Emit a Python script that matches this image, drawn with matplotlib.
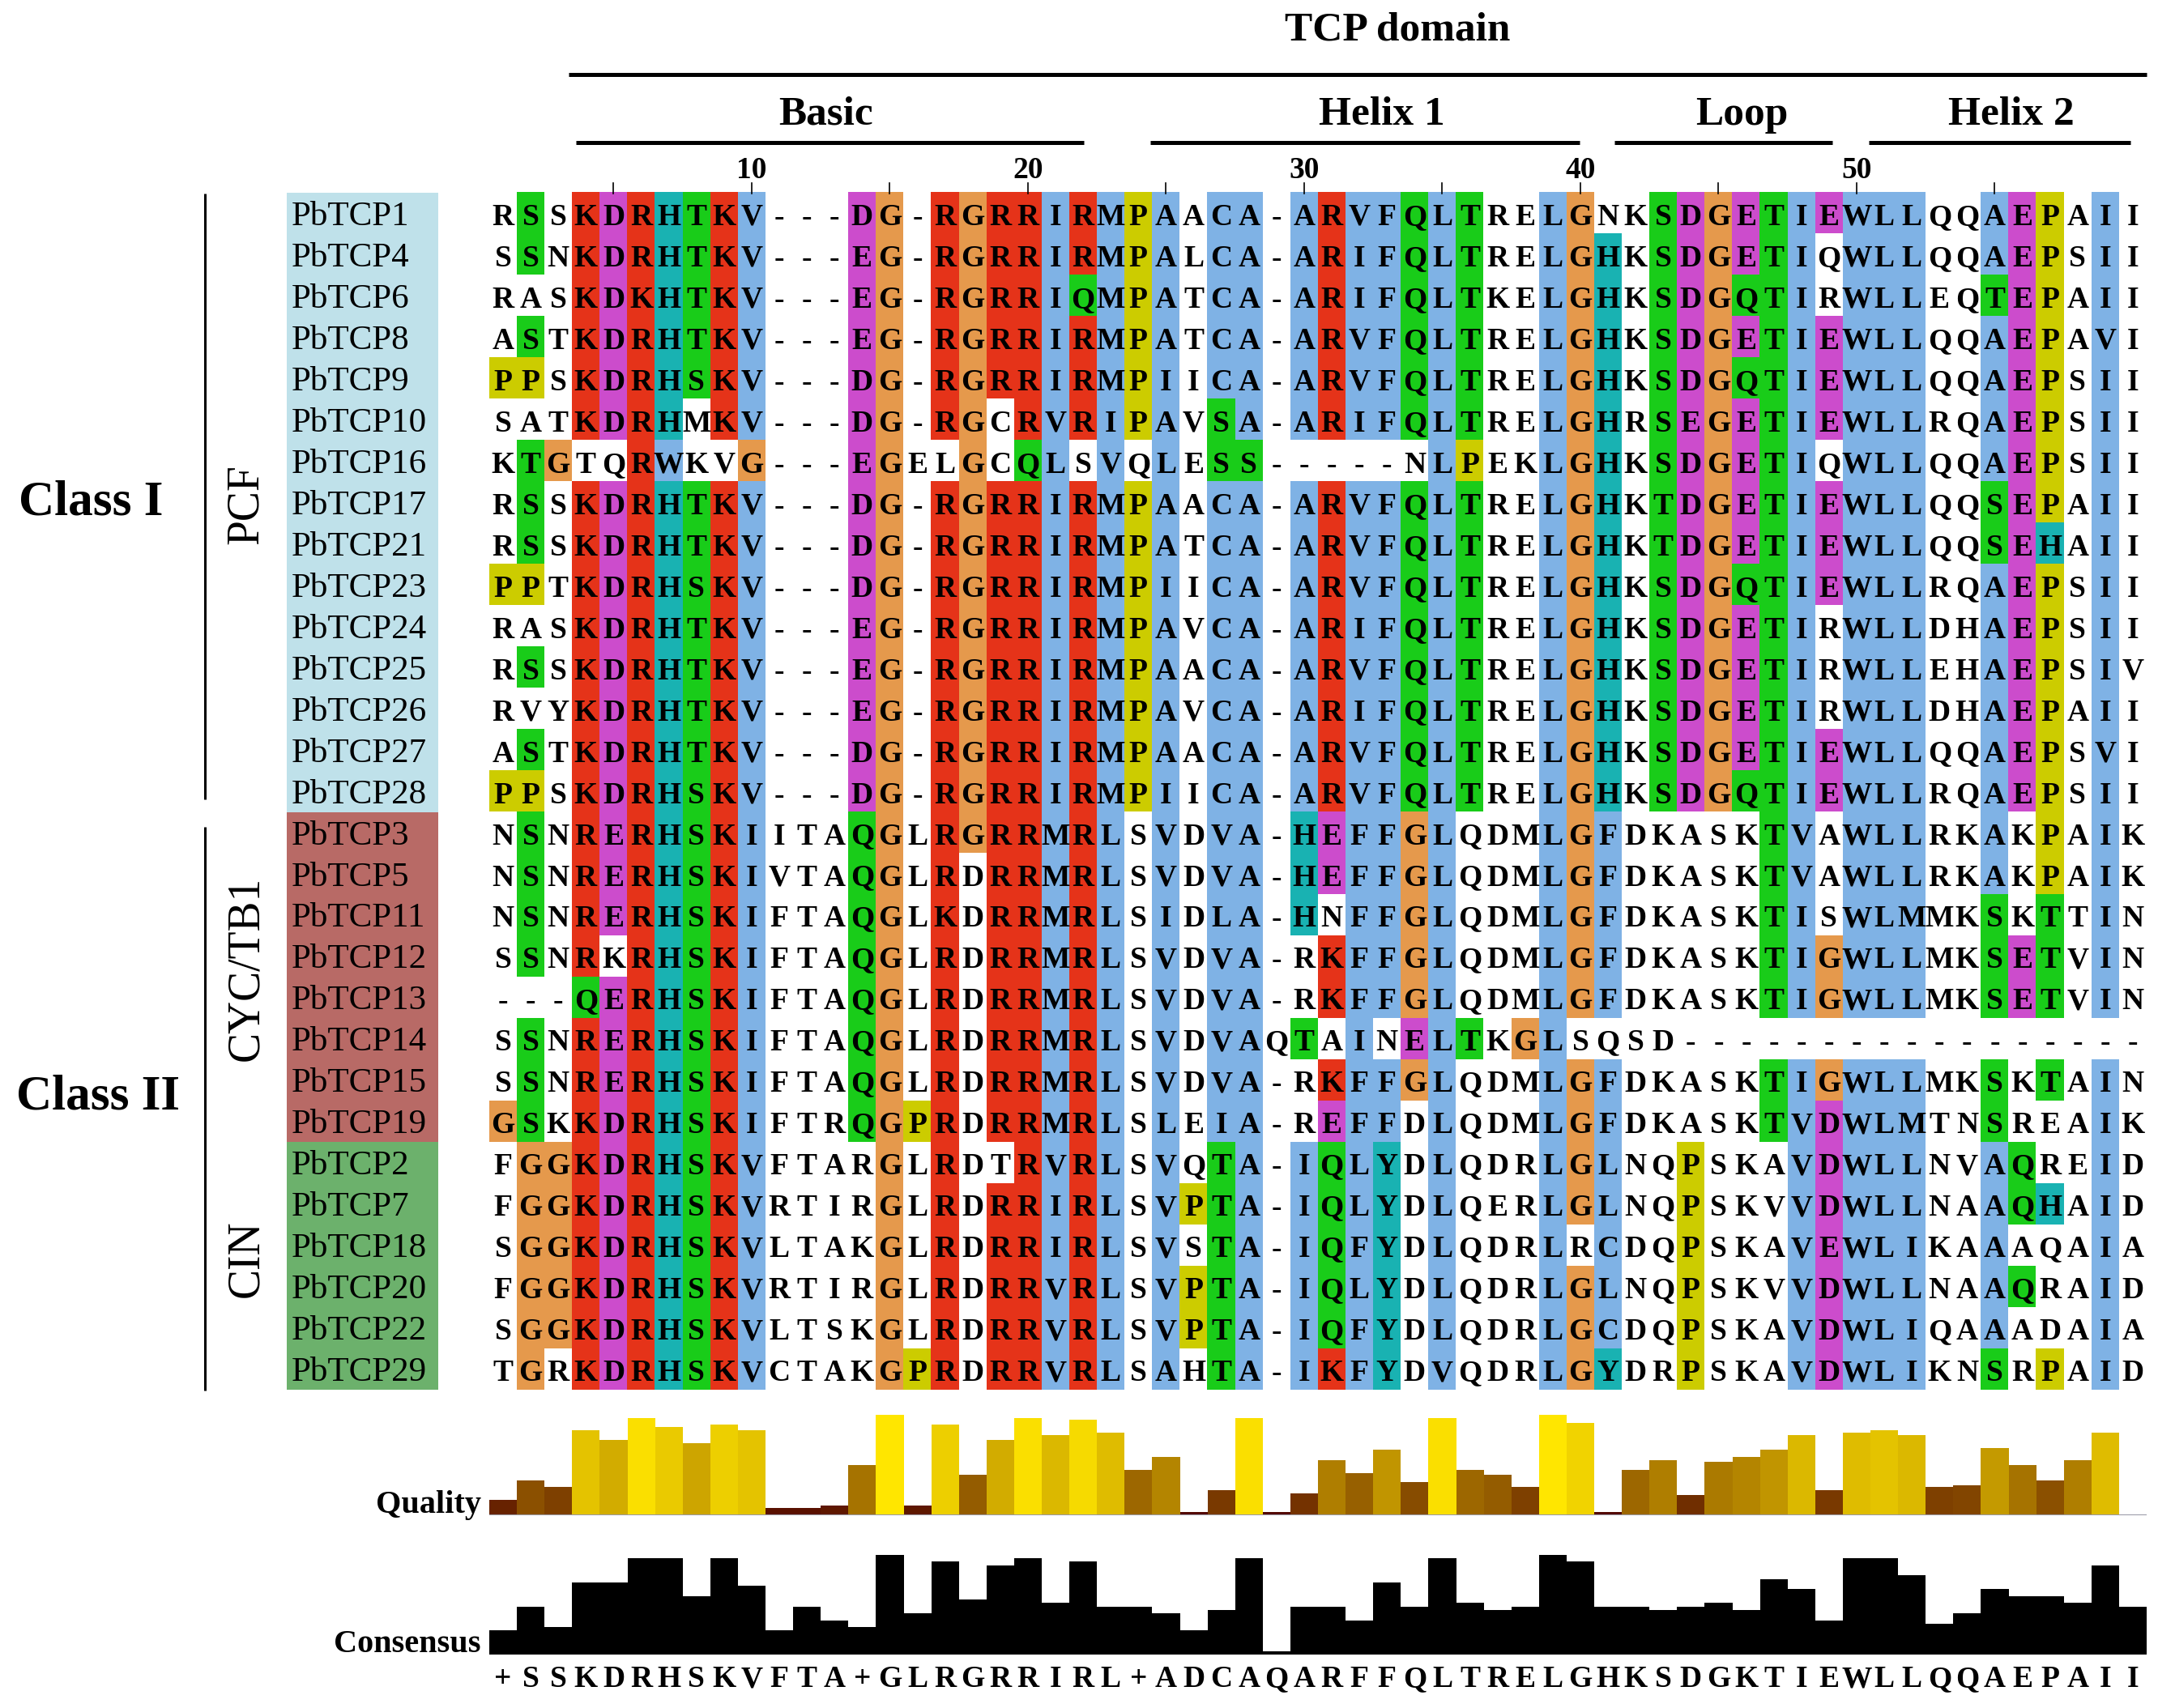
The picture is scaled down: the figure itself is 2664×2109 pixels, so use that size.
import numpy as np
import matplotlib
matplotlib.use("Agg")
import matplotlib.pyplot as plt

# ---------------- data ----------------
names = ["PbTCP1", "PbTCP4", "PbTCP6", "PbTCP8", "PbTCP9", "PbTCP10", "PbTCP16",
         "PbTCP17", "PbTCP21", "PbTCP23", "PbTCP24", "PbTCP25", "PbTCP26", "PbTCP27",
         "PbTCP28", "PbTCP3", "PbTCP5", "PbTCP11", "PbTCP12", "PbTCP13", "PbTCP14",
         "PbTCP15", "PbTCP19", "PbTCP2", "PbTCP7", "PbTCP18", "PbTCP20", "PbTCP22",
         "PbTCP29"]

seqs = [
    "RSSKDRHTKV---DG-RGRRIRMPAACA-ARVFQLTRELGNKSDGETIEWLLQQAEPAII",
    "SSNKDRHTKV---EG-RGRRIRMPALCA-ARIFQLTRELGHKSDGETIQWLLQQAEPSII",
    "RASKDKHTKV---EG-RGRRIQMPATCA-ARIFQLTKELGHKSDGQTIRWLLEQTEPAII",
    "ASTKDRHTKV---EG-RGRRIRMPATCA-ARVFQLTRELGHKSDGETIEWLLQQAEPAVI",
    "PPSKDRHSKV---DG-RGRRIRMPIICA-ARVFQLTRELGHKSDGQTIEWLLQQAEPSII",
    "SATKDRHMKV---DG-RGCRVRIPAVSA-ARIFQLTRELGHRSEGETIEWLLRQAEPSII",
    "KTGTQRWKVG---EGELGCQLSVQLESS-----NLPEKLGHKSDGETIQWLLQQAEPSII",
    "RSSKDRHTKV---DG-RGRRIRMPAACA-ARVFQLTRELGHKTDGETIEWLLQQSEPAII",
    "RSSKDRHTKV---DG-RGRRIRMPATCA-ARVFQLTRELGHKTDGETIEWLLQQSEHAII",
    "PPTKDRHSKV---DG-RGRRIRMPIICA-ARVFQLTRELGHKSDGQTIEWLLRQAEPSII",
    "RASKDRHTKV---EG-RGRRIRMPAVCA-ARIFQLTRELGHKSDGETIRWLLDHAEPSII",
    "RSSKDRHTKV---EG-RGRRIRMPAACA-ARVFQLTRELGHKSDGETIRWLLEHAEPSIV",
    "RVYKDRHTKV---EG-RGRRIRMPAVCA-ARIFQLTRELGHKSDGETIRWLLDHAEPAII",
    "ASTKDRHTKV---DG-RGRRIRMPAACA-ARVFQLTRELGHKSDGETIEWLLQQAEPSVI",
    "PPSKDRHSKV---DG-RGRRIRMPIICA-ARVFQLTRELGHKSDGQTIEWLLRQAEPSII",
    "NSNRERHSKIITAQGLRGRRMRLSVDVA-HEFFGLQDMLGFDKASKTVAWLLRKAKPAIK",
    "NSNRERHSKIVTAQGLRDRRMRLSVDVA-HEFFGLQDMLGFDKASKTVAWLLRKAKPAIK",
    "NSNRERHSKIFTAQGLKDRRMRLSIDLA-HNFFGLQDMLGFDKASKTISWLMMKSKTTIN",
    "SSNRKRHSKIFTAQGLRDRRMRLSVDVA-RKFFGLQDMLGFDKASKTIGWLLMKSETVIN",
    "---QERHSKIFTAQGLRDRRMRLSVDVA-RKFFGLQDMLGFDKASKTIGWLLMKSETVIN",
    "SSNRERHSKIFTAQGLRDRRMRLSVDVAQTAINELTKGLSQSD-----------------",
    "SSNRERHSKIFTAQGLRDRRMRLSVDVA-RKFFGLQDMLGFDKASKTIGWLLMKSKTAIN",
    "GSKKDRHSKIFTRQGPRDRRMRLSLEIA-REFFDLQDMLGFDKASKTVDWLMTNSREAIK",
    "FGGKDRHSKVFTARGLRDTRVRLSVQTA-IQLYDLQDRLGLNQPSKAVDWLLNVAQREID",
    "FGGKDRHSKVRTIRGLRDRRIRLSVPTA-IQLYDLQERLGLNQPSKVVDWLLNAAQHAID",
    "SGGKDRHSKVLTAKGLRDRRIRLSVSTA-IQFYDLQDRLRCDQPSKAVEWLIKAAAQAIA",
    "FGGKDRHSKVRTIRGLRDRRVRLSVPTA-IQLYDLQDRLGLNQPSKVVDWLLNAAQRAID",
    "SGGKDRHSKVLTSKGLRDRRVRLSVPTA-IQFYDLQDRLGCDQPSKAVDWLIQAAADAIA",
    "TGRKDRHSKVCTAKGPRDRRVRLSAHTA-IKFYDVQDRLGYDRPSKAVDWLIKNSRPAID",
]

subfamilies = ["PCF", "CYC/TB1", "CIN"]
subfamily_sizes = [15, 8, 6]
classes = ["Class I", "Class II"]

# Jalview alignment quality (percent of maximum)
quality = [15, 35, 28, 85, 75, 97, 88, 72, 90, 85,
           7, 7, 10, 50, 100, 10, 90, 40, 75, 97,
           80, 95, 82, 45, 58, 3, 25, 97, 3, 22,
           55, 42, 65, 33, 97, 45, 40, 28, 100, 92,
           3, 45, 55, 20, 53, 58, 65, 80, 25, 82,
           85, 80, 28, 30, 67, 50, 35, 55, 82, 0]

tick_numbers = [10, 20, 30, 40, 50]
domain_title = "TCP domain"
region_labels = ["Basic", "Helix 1", "Loop", "Helix 2"]

# ---------------- ClustalX colouring (Jalview rules) ----------------
CLX = {
    "blue": (0.5, 0.7, 0.9), "red": (0.9, 0.2, 0.1), "green": (0.1, 0.8, 0.1),
    "orange": (0.9, 0.6, 0.3), "cyan": (0.1, 0.7, 0.7), "pink": (0.9, 0.5, 0.5),
    "magenta": (0.8, 0.3, 0.8), "yellow": (0.8, 0.8, 0.0),
}


def clustal_colour(res, col):
    n = float(len(col))

    def p(group):
        return 100.0 * sum(1 for x in col if x in group) / n

    def pmax(letters):
        return max(p(x) for x in letters)

    hyd = p("WLVIMAFCHP")
    if res == "G":
        return "orange"
    if res == "P":
        return "yellow"
    if res in "AILMFWV":
        return "blue" if hyd > 60 else None
    if res == "C":
        if hyd > 60:
            return "blue"
        if p("C") > 85:
            return "pink"
        return None
    if res in "KR":
        if p("KR") > 60 or pmax("KRQ") > 80:
            return "red"
        return None
    if res == "E":
        if p("KR") > 60 or p("QE") > 50 or p("ED") > 50 or pmax("EQD") > 85:
            return "magenta"
        return None
    if res == "D":
        if p("KR") > 60 or pmax("KRQ") > 85 or p("ED") > 50:
            return "magenta"
        return None
    if res == "N":
        if p("N") > 50 or pmax("NY") > 85:
            return "green"
        return None
    if res == "Q":
        if p("KR") > 60 or p("QE") > 50 or pmax("QEKR") > 85:
            return "green"
        return None
    if res in "ST":
        if hyd > 60 or p("TS") > 50 or pmax("ST") > 85:
            return "green"
        return None
    if res in "HY":
        if hyd > 60 or pmax("WYACPQFHILMV") > 85:
            return "cyan"
        return None
    return None


nrow, ncol = len(seqs), len(seqs[0])
columns = ["".join(s[j] for s in seqs) for j in range(ncol)]
rgba = np.ones((nrow, ncol, 4))
for i, s in enumerate(seqs):
    for j, ch in enumerate(s):
        c = clustal_colour(ch, columns[j]) if ch != "-" else None
        if c:
            rgba[i, j, :3] = CLX[c]

# consensus (Jalview: percent of modal residue, gaps counted in the total)
cons_pct, cons_lab = [], []
for col in columns:
    counts = {}
    for ch in col:
        if ch != "-":
            counts[ch] = counts.get(ch, 0) + 1
    best = max(counts.values())
    tops = [k for k, v in counts.items() if v == best]
    cons_pct.append(100.0 * best / len(col))
    cons_lab.append(tops[0] if len(tops) == 1 else "+")

# ---------------- layout ----------------
W, H = 2664, 2109
X0, PX = 604.0, 34.1      # left edge of column 1, column pitch (px)
Y0, PY = 238.0, 50.97     # top edge of row 1, row pitch (px)

SERIF = ["Liberation Serif", "DejaVu Serif"]
plt.rcParams["font.family"] = SERIF

fig = plt.figure(figsize=(W / 100, H / 100), dpi=100)
fig.patch.set_facecolor("white")
ax = fig.add_axes([0, 0, 1, 1])


def fx(px):
    return 0.5 + (px - X0) / PX


def fy(py):
    return 0.5 + (py - Y0) / PY


ax.imshow(rgba, extent=(0.5, ncol + 0.5, nrow + 0.5, 0.5), aspect="auto",
          interpolation="nearest", zorder=1)
ax.set_xlim(fx(0), fx(W))
ax.set_ylim(fy(H), fy(0))
ax.axis("off")

RES_FS = 27
base_off = 14.5 / PY
for i, s in enumerate(seqs):
    for j, ch in enumerate(s):
        ax.text(j + 1, i + 1 + base_off, ch, ha="center", va="baseline",
                fontsize=RES_FS, fontweight="bold", zorder=3)

# name boxes
group_colours = ["#bfe1ea", "#b86a66", "#6cb16c"]
row = 0
for g, size in enumerate(subfamily_sizes):
    for k in range(size):
        r = row + k + 1
        ax.add_patch(plt.Rectangle((fx(354), r - 0.5), fx(541) - fx(354), 1.0,
                                   facecolor=group_colours[g], edgecolor="none",
                                   zorder=1))
        ax.text(fx(360), r + base_off, names[row + k], ha="left", va="baseline",
                fontsize=31, zorder=3)
    row += size

# subfamily labels (rotated)
sub_centres_px = [623, 1196, 1554]
for lab, yc in zip(subfamilies, sub_centres_px):
    ax.text(fx(304), fy(yc), lab, rotation=90, ha="center", va="center",
            fontsize=40)

# class brackets
ax.plot([fx(253), fx(253)], [fy(239), fy(987)], color="black", lw=2.2,
        solid_capstyle="butt")
ax.plot([fx(253), fx(253)], [fy(1021), fy(1717)], color="black", lw=2.2,
        solid_capstyle="butt")
ax.text(fx(112), fy(620), classes[0], ha="center", va="center", fontsize=44,
        fontweight="bold")
ax.text(fx(121), fy(1354), classes[1], ha="center", va="center", fontsize=44,
        fontweight="bold")

# header
ax.text(fx(1725), fy(50), domain_title, ha="center", va="baseline",
        fontsize=37, fontweight="bold")
ax.plot([fx(702), fx(2650)], [fy(92), fy(92)], color="black", lw=3.6,
        solid_capstyle="butt")
region_spans_px = [(711, 1338), (1420, 1950), (1993, 2262), (2307, 2630)]
region_centres_px = [1020, 1706, 2150, 2483]
for lab, (a, b), xc in zip(region_labels, region_spans_px, region_centres_px):
    ax.text(fx(xc), fy(154), lab, ha="center", va="baseline", fontsize=37,
            fontweight="bold")
    ax.plot([fx(a), fx(b)], [fy(176), fy(176)], color="black", lw=3.6,
            solid_capstyle="butt")
for t in tick_numbers:
    ax.text(t, fy(220), str(t), ha="center", va="baseline", fontsize=27,
            fontweight="bold")
for t in range(5, ncol, 5):
    ax.plot([t, t], [fy(226), fy(239)], color="black", lw=1.2)

# ---------------- quality ----------------
axq = fig.add_axes([X0 / W, 1 - 1871 / H, ncol * PX / W, 124 / H])
qmax = max(quality)
qcols = [(0.3 + 0.7 * q / qmax, 0.9 * q / qmax, 0.0) for q in quality]
axq.bar(np.arange(1, ncol + 1), quality, width=1.0, color=qcols, linewidth=0)
axq.axhline(0, color="#9a9aa6", lw=1.5)
axq.set_xlim(0.5, ncol + 0.5)
axq.set_ylim(0, 100)
axq.axis("off")
ax.text(fx(594), fy(1868), "Quality", ha="right", va="baseline", fontsize=29,
        fontweight="bold")

# ---------------- consensus ----------------
axc = fig.add_axes([X0 / W, 1 - 2043 / H, ncol * PX / W, 123 / H])
axc.bar(np.arange(1, ncol + 1), cons_pct, width=1.0, color="black", linewidth=0)
axc.set_xlim(0.5, ncol + 0.5)
axc.set_ylim(0, 100)
axc.axis("off")
ax.text(fx(594), fy(2040), "Consensus", ha="right", va="baseline", fontsize=29,
        fontweight="bold")
for j, lab in enumerate(cons_lab):
    ax.text(j + 1, fy(2083), lab, ha="center", va="baseline", fontsize=RES_FS,
            fontweight="bold")

fig.savefig("out.png", dpi=100, facecolor="white")
